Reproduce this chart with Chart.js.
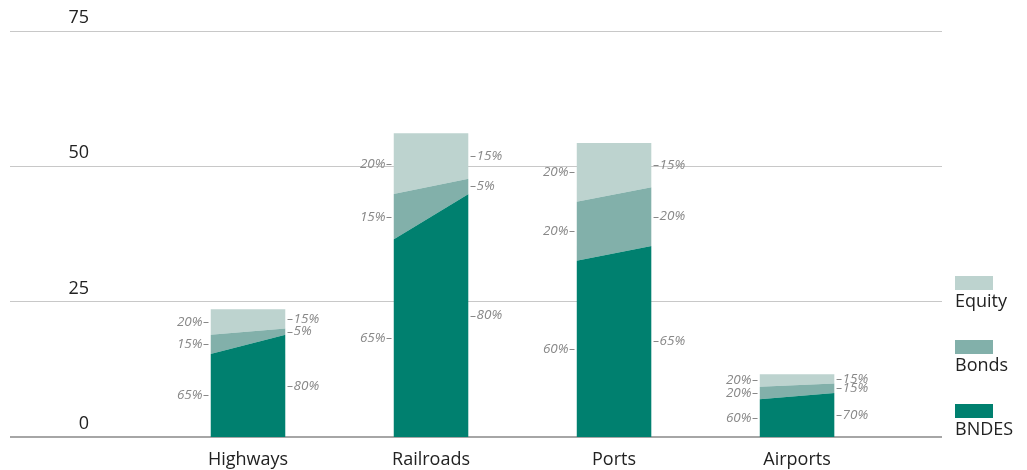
<!DOCTYPE html>
<html>
<head>
<meta charset="utf-8">
<script src="https://cdn.jsdelivr.net/npm/chart.js@4/dist/chart.umd.min.js"></script>
<style>
  html, body { margin: 0; padding: 0; background: #ffffff; }
  canvas { display: block; }
</style>
</head>
<body>
<canvas id="chart" width="1027" height="470"></canvas>
<script>
// Financing volume by sector, split by source at the start and end of the period
const categories = ['Highways', 'Railroads', 'Ports', 'Airports'];
const totals = [23.6, 56.1, 54.3, 11.6];

// Shares (%) of each source: left edge = start, right edge = end
const bndesStart  = [65, 65, 60, 60];
const bndesEnd    = [80, 80, 65, 70];
const bondsStart  = [15, 15, 20, 20];
const bondsEnd    = [5, 5, 20, 15];
const equityStart = [20, 20, 20, 20];
const equityEnd   = [15, 15, 15, 15];

const yTicks = [0, 25, 50, 75];

const FONT = '"Open Sans", "Noto Sans", sans-serif';
const HALF = 0.205; // half bar width in category units

const series = [
  { label: 'BNDES',  start: bndesStart,  end: bndesEnd,  color: '#00806f' },
  { label: 'Bonds',  start: bondsStart,  end: bondsEnd,  color: '#82b0aa' },
  { label: 'Equity', start: equityStart, end: equityEnd, color: '#bdd3cf' }
];

// cumulative share of series 0..k at each edge
function cumShare(k, i, edge) {
  let s = 0;
  for (let j = 0; j <= k; j++) s += series[j][edge][i];
  return s;
}

const datasets = series.map((s, k) => {
  const data = [];
  categories.forEach((c, i) => {
    data.push({ x: i - HALF, y: totals[i] * cumShare(k, i, 'start') / 100 });
    data.push({ x: i + HALF, y: totals[i] * cumShare(k, i, 'end') / 100 });
    data.push({ x: i + 0.5, y: null });
  });
  return {
    label: s.label,
    data,
    backgroundColor: s.color,
    borderColor: s.color,
    borderWidth: 0,
    pointRadius: 0,
    tension: 0,
    spanGaps: false,
    fill: k === 0 ? 'origin' : '-1'
  };
});

// Percent labels at both edges of every segment
const shareLabels = {
  id: 'shareLabels',
  afterDatasetsDraw(chart) {
    const { ctx, scales: { x, y } } = chart;
    ctx.save();
    ctx.font = 'italic 13.5px ' + FONT;
    ctx.fillStyle = '#888888';
    ctx.strokeStyle = '#888888';
    ctx.lineWidth = 1;
    ctx.textBaseline = 'middle';
    series.forEach((s, k) => {
      categories.forEach((c, i) => {
        const xl = x.getPixelForValue(i - HALF);
        const xr = x.getPixelForValue(i + HALF);
        const lo0 = k === 0 ? 0 : cumShare(k - 1, i, 'start');
        const lo1 = k === 0 ? 0 : cumShare(k - 1, i, 'end');
        const ml = y.getPixelForValue(totals[i] * (lo0 + cumShare(k, i, 'start')) / 200);
        const mr = y.getPixelForValue(totals[i] * (lo1 + cumShare(k, i, 'end')) / 200);
        // left side
        ctx.textAlign = 'right';
        ctx.fillText(s.start[i] + '%', xl - 8, ml);
        ctx.beginPath();
        ctx.moveTo(xl - 7, Math.round(ml) + 0.5);
        ctx.lineTo(xl - 2, Math.round(ml) + 0.5);
        ctx.stroke();
        // right side
        ctx.textAlign = 'left';
        ctx.beginPath();
        ctx.moveTo(xr + 2, Math.round(mr) + 0.5);
        ctx.lineTo(xr + 7, Math.round(mr) + 0.5);
        ctx.stroke();
        ctx.fillText(s.end[i] + '%', xr + 8, mr);
      });
    });
    ctx.restore();
  }
};

// Value labels sitting above the gridlines on the left
const yLabels = {
  id: 'yLabels',
  afterDraw(chart) {
    const { ctx, scales: { y } } = chart;
    ctx.save();
    ctx.font = '18px ' + FONT;
    ctx.fillStyle = '#222222';
    ctx.textAlign = 'right';
    ctx.textBaseline = 'middle';
    y.ticks.forEach(t => {
      ctx.fillText(String(t.value), 89, y.getPixelForValue(t.value) - 13);
    });
    ctx.restore();
  }
};

// Stacked legend on the right: swatch above name, top series first
const sideLegend = {
  id: 'sideLegend',
  afterDraw(chart) {
    const { ctx, chartArea } = chart;
    ctx.save();
    ctx.font = '18px ' + FONT;
    ctx.textAlign = 'left';
    ctx.textBaseline = 'alphabetic';
    const items = chart.data.datasets.slice().reverse();
    items.forEach((ds, idx) => {
      const top = chartArea.bottom - 161 + idx * 64;
      ctx.fillStyle = ds.backgroundColor;
      ctx.fillRect(955, top, 38, 14);
      ctx.fillStyle = '#222222';
      ctx.fillText(ds.label, 955, top + 31);
    });
    ctx.restore();
  }
};

new Chart(document.getElementById('chart'), {
  type: 'line',
  data: { datasets },
  options: {
    responsive: false,
    animation: false,
    layout: { padding: { left: 10, right: 85, top: 31, bottom: 0 } },
    plugins: {
      legend: { display: false },
      tooltip: { enabled: false }
    },
    scales: {
      x: {
        type: 'linear',
        min: -1.3005,
        max: 3.792,
        afterBuildTicks: scale => { scale.ticks = categories.map((c, i) => ({ value: i })); },
        afterFit: scale => { scale.height = 33; },
        grid: { display: false, drawTicks: false },
        border: { display: false },
        ticks: {
          autoSkip: false,
          maxRotation: 0,
          padding: 12,
          color: '#222222',
          font: { family: FONT, size: 18 },
          callback: v => categories[v]
        }
      },
      y: {
        type: 'linear',
        min: 0,
        max: 75,
        afterBuildTicks: scale => { scale.ticks = yTicks.map(v => ({ value: v })); },
        border: { display: false },
        grid: {
          drawTicks: false,
          color: ctx => ctx.tick && ctx.tick.value === 0 ? '#a6a6a6' : '#c8c8c8',
          lineWidth: ctx => ctx.tick && ctx.tick.value === 0 ? 2 : 1
        },
        ticks: { display: false }
      }
    }
  },
  plugins: [shareLabels, yLabels, sideLegend]
});
</script>
</body>
</html>
